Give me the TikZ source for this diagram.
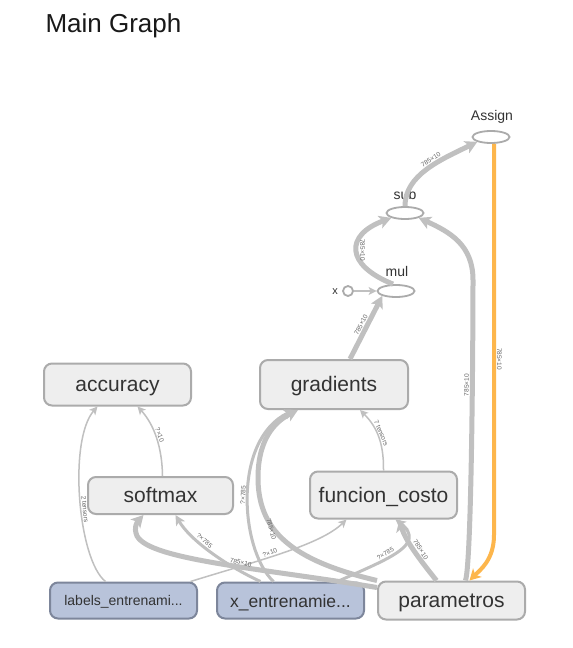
\documentclass[tikz,border=0pt]{standalone}
\usepackage{fontspec}
\setmainfont{Liberation Sans}
\usetikzlibrary{arrows.meta,shapes.geometric,calc}
\definecolor{boxfill}{HTML}{EEEEEE}
\definecolor{boxdraw}{HTML}{ABABAB}
\definecolor{bluefill}{HTML}{B8C3DA}
\definecolor{bluedraw}{HTML}{7D869B}
\definecolor{edgegray}{HTML}{C0C0C0}
\definecolor{orangeedge}{HTML}{FDB64C}
\definecolor{txt}{HTML}{333333}
\definecolor{elab}{HTML}{666666}
\begin{document}
\begin{tikzpicture}[x=1pt,y=-1pt,
  gbox/.style={draw=boxdraw, fill=boxfill, line width=2pt, rounded corners=8pt, inner sep=0pt, text=txt, font=\fontsize{21}{24}\selectfont, text height=18pt, text depth=4pt},
  bbox/.style={gbox, draw=bluedraw, fill=bluefill},
  opnode/.style={ellipse, draw=boxdraw, fill=white, line width=1.8pt, minimum width=37pt, minimum height=12pt, inner sep=0pt},
  oplabel/.style={text=txt, font=\fontsize{14}{16}\selectfont},
  thinedge/.style={draw=edgegray, line width=1.5pt, -{Stealth[length=8pt,width=8pt,inset=2pt]}},
  midedge/.style={draw=edgegray, line width=3pt, -{Stealth[length=10pt,width=10pt,inset=2.5pt]}},
  thickedge/.style={draw=edgegray, line width=5pt, -{Stealth[length=12pt,width=13pt,inset=3pt]}},
  orangeedgestyle/.style={draw=orangeedge, line width=4pt, -{Stealth[length=11pt,width=12pt,inset=3pt]}},
  elbl/.style={sloped, above, inner sep=1pt, font=\fontsize{6.5}{7}\selectfont, text=elab}
]
\fill[white] (0,0) rectangle (573,648);
\useasboundingbox (0,0) rectangle (573,648);

\node[anchor=west, font=\fontsize{26}{29}\selectfont, text=black!90] (title) at (42,26) {Main Graph};

% group nodes
\node[gbox, minimum width=147pt, minimum height=42pt] (acc) at (117.5,384.5) {accuracy};
\node[gbox, minimum width=148pt, minimum height=49pt] (grad) at (334,384.5) {gradients};
\node[gbox, minimum width=145pt, minimum height=37pt] (soft) at (160.5,495.5) {softmax};
\node[gbox, minimum width=147pt, minimum height=47pt] (fc) at (383.5,495) {funcion\_costo};
\node[bbox, minimum width=147pt, minimum height=36pt, font=\fontsize{14}{16}\selectfont, text height=13pt, text depth=3pt] (lab) at (123.5,600.5) {labels\_entrenami...};
\node[bbox, minimum width=147pt, minimum height=36pt, font=\fontsize{17.5}{20}\selectfont, text height=16pt, text depth=3pt] (xent) at (290.5,600.5) {x\_entrenamie...};
\node[gbox, minimum width=147pt, minimum height=38pt] (par) at (451.5,600.5) {parametros};

% op nodes
\node[opnode] (asg) at (491,137) {};
\node[oplabel] (asglbl) at (492,117) {Assign};
\node[opnode] (sub) at (405,213) {};
\node[oplabel] (sublbl) at (405,194) {sub};
\node[opnode] (mul) at (396,291) {};
\node[oplabel] (mullbl) at (397,271) {mul};
\node[circle, draw=boxdraw, fill=white, line width=1.8pt, minimum size=10pt, inner sep=0pt] (xc) at (348,291) {};
\node[text=txt, font=\fontsize{11}{12}\selectfont] (xlbl) at (335,292) {x};

% edges
\draw[thinedge] ([xshift=-18pt]lab.north) .. controls (78,560) and (68,440) .. node[elbl, pos=0.45] {2 tensors} ([xshift=-20pt]acc.south);
\draw[thinedge] ([xshift=2pt]soft.north) .. controls (162,440) and (150,420) .. node[elbl, pos=0.45] {?×10} ([xshift=20pt]acc.south);
\draw[thinedge] ([xshift=67pt]lab.north) .. controls (260,560) and (320,545) .. node[elbl, pos=0.42] {?×10} ([xshift=-37pt]fc.south);
\draw[midedge] ([xshift=-30pt]xent.north) .. controls (225,565) and (190,540) .. node[elbl, pos=0.6] {?×785} ([xshift=15pt]soft.south);
\draw[midedge] ([xshift=-17pt]xent.north) .. controls (240,550) and (232,440) .. node[elbl, pos=0.5] {?×785} ([xshift=-40pt]grad.south);
\draw[thickedge] ([yshift=-7pt]par.north west) .. controls (260,568) and (150,560) .. (137,536) .. controls (133,527) and (138,521) .. ([xshift=-17pt]soft.south);
\node[elbl, rotate=-13] (l6) at (240,566) {785×10};
\draw[thickedge] (par.north west) .. controls (290,560) and (257,530) .. (258,475) .. controls (259,435) and (278,420) .. ([xshift=-36pt]grad.south);
\node[elbl, rotate=-75] (l7) at (268,530) {785×10};
\draw[midedge] ([xshift=47pt]xent.north) .. controls (385,560) and (428,545) .. node[elbl, pos=0.4] {?×785} ([xshift=12pt]fc.south);
\draw[thickedge] ([xshift=-15pt]par.north) .. controls (420,560) and (405,540) .. node[elbl, pos=0.45] {785×10} ([xshift=16pt]fc.south);
\draw[thinedge] (fc.north) .. controls (384,440) and (375,425) .. node[elbl, pos=0.5] {7 tensors} ([xshift=26pt]grad.south);
\draw[thickedge] ([xshift=16pt]grad.north) -- node[elbl, pos=0.5] {785×10} (mul.south west);
\draw[thinedge] (xc.east) -- (mul.west);
\draw[thickedge] ([xshift=-3pt]mul.north) .. controls (345,265) and (345,235) .. node[elbl, pos=0.5] {785×10} (sub.south west);
\draw[thickedge] ([xshift=14pt]par.north) .. controls (472,560) and (473,320) .. node[elbl, pos=0.63] {785×10} (473,280) .. controls (473,245) and (450,232) .. (sub.south east);
\draw[thickedge] (sub.north) .. controls (405,175) and (440,160) .. node[elbl, pos=0.58] {785×10} (asg.south west);
\draw[orangeedgestyle] ([xshift=3pt]asg.south) -- node[elbl, pos=0.55] {785×10} (494,535) .. controls (494,560) and (480,570) .. ([xshift=18pt]par.north);
\end{tikzpicture}
\end{document}
